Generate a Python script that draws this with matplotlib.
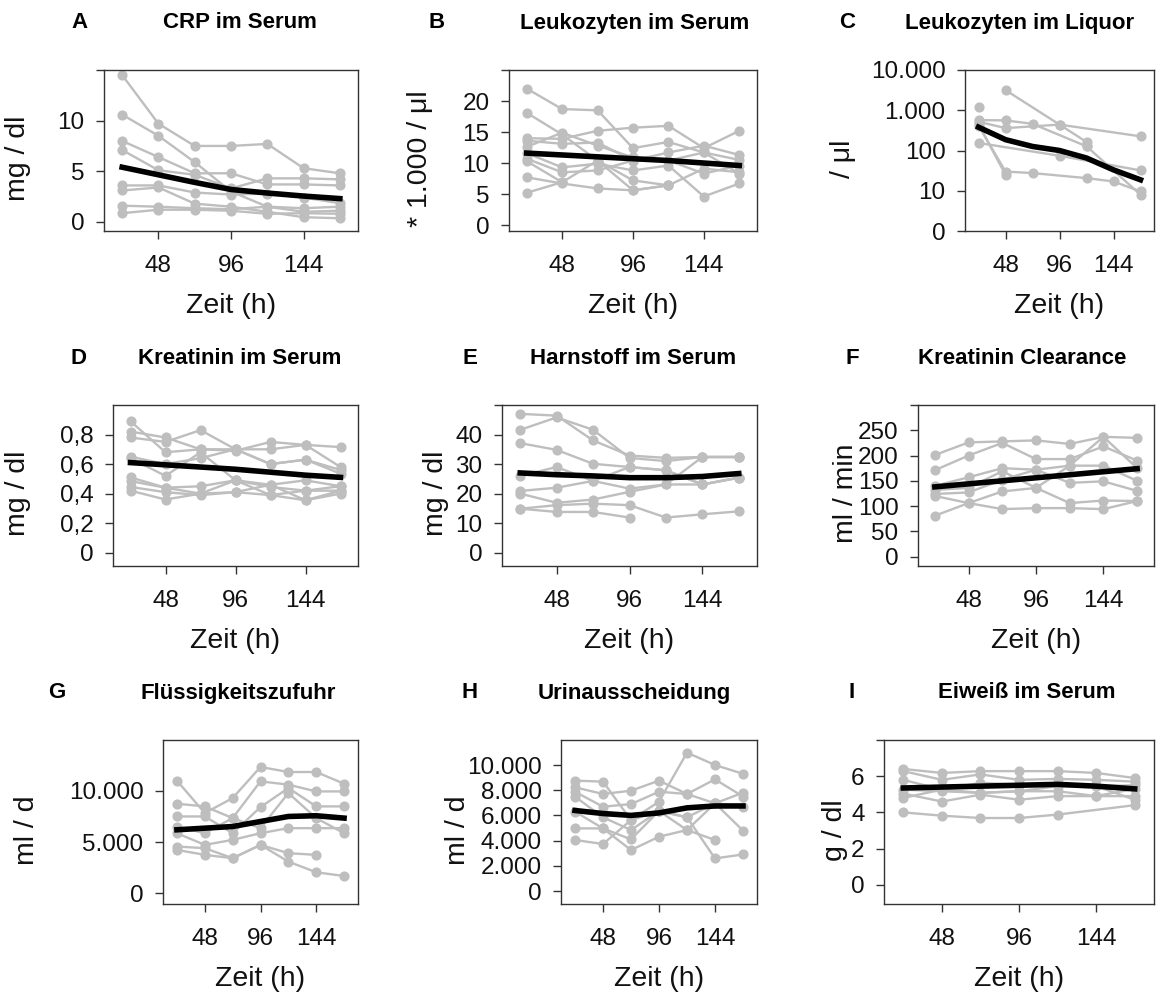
import numpy as np
import matplotlib.pyplot as plt
from matplotlib.ticker import FixedLocator, FixedFormatter

plt.rcParams['font.family'] = ['Liberation Sans', 'DejaVu Sans']

W, H = 1161, 994
nan = np.nan

TIME = [24, 48, 72, 96, 120, 144, 168]
XTICKS = [48, 96, 144]

# A: CRP im Serum (mg/dl)
CRP = [
    [14.5, 9.7, 7.5, 7.5, 7.7, 5.3, 4.8],
    [10.6, 8.5, 5.9, 3.0, 1.5, 1.0, 1.1],
    [8.0, 6.4, 4.8, 4.8, 3.7, 3.7, 3.6],
    [7.1, 5.1, 4.65, 3.3, 4.3, 4.3, 4.2],
    [3.6, 3.6, 2.9, 2.7, 2.8, 2.4, 1.85],
    [3.1, 3.4, 1.8, 1.5, 1.0, 0.46, 0.36],
    [1.6, 1.5, 1.35, 1.25, 1.5, 1.35, 1.5],
    [0.86, 1.2, 1.2, 1.1, 0.8, 0.86, 0.8],
]
CRP_MEAN = [5.4, 4.65, 3.9, 3.2, 2.85, 2.55, 2.3]

# B: Leukozyten im Serum (*1000/ul)
LEUKO_S = [
    [22.0, 18.7, 18.5, 12.4, 13.4, 11.7, 10.5],
    [18.1, 14.6, 10.4, 7.2, 6.4, 9.1, 8.5],
    [14.0, 13.9, 15.2, 15.7, 16.0, 12.4, 15.2],
    [13.6, 13.1, 13.3, 10.4, 11.7, 12.8, 11.3],
    [12.6, 14.9, 12.8, 10.9, 10.4, 8.3, 9.6],
    [11.6, 9.3, 9.9, 8.8, 9.6, 4.6, 6.7],
    [10.7, 8.5, 8.8, 10.4, 10.4, 11.7, 8.3],
    [10.3, 6.9, 10.4, 5.6, 6.4, nan, nan],
    [7.7, 6.7, 5.9, 5.6, 6.4, nan, nan],
    [5.2, 6.9, nan, nan, nan, nan, nan],
]
LEUKO_S_MEAN = [11.6, 11.3, 11.0, 10.7, 10.4, 10.0, 9.6]

# C: Leukozyten im Liquor (/ul)
LEUKO_L = [
    [1200, nan, nan, nan, nan, nan, nan],
    [570, 560, 460, nan, 127, nan, nan],
    [nan, 3170, nan, 440, 163, nan, nan],
    [520, 360, nan, 440, nan, nan, 225],
    [416, 30, 27.5, nan, 20.6, 17, 9.6],
    [450, 25, nan, nan, nan, nan, nan],
    [154, nan, nan, 74, nan, nan, 32],
    [nan, nan, nan, nan, 127, nan, 8],
]
LEUKO_L_MEAN = [380, 186, 126, 100, 65, 33, 18.7]

# D: Kreatinin im Serum (mg/dl)
KREA = [
    [0.89, 0.68, 0.70, 0.70, 0.60, 0.63, 0.56],
    [0.82, 0.78, 0.70, 0.69, 0.75, 0.73, 0.58],
    [0.78, 0.75, 0.83, 0.70, 0.70, 0.73, 0.715],
    [0.65, 0.60, 0.64, 0.70, 0.60, 0.63, 0.535],
    [0.64, 0.52, 0.68, 0.49, 0.46, 0.49, 0.45],
    [0.51, 0.44, 0.45, 0.49, 0.445, 0.42, 0.42],
    [0.485, 0.44, 0.40, 0.41, 0.46, 0.355, 0.40],
    [0.445, 0.41, 0.39, 0.41, 0.39, 0.42, 0.45],
    [0.42, 0.36, 0.40, 0.49, 0.39, 0.355, 0.42],
]
KREA_MEAN = [0.61, 0.595, 0.58, 0.565, 0.545, 0.525, 0.51]

# E: Harnstoff im Serum (mg/dl)
HARN = [
    [47.0, 46.4, 38.0, 32.9, 32.1, 32.4, 32.4],
    [41.6, 45.8, 41.6, 32.1, 31.0, 32.4, 32.4],
    [37.1, 34.8, 30.1, 29.0, 27.9, 23.1, 25.4],
    [26.0, 29.0, 24.3, 21.7, 23.1, 32.4, 32.4],
    [20.9, 22.0, 24.3, 29.0, 27.9, 23.1, 25.4],
    [20.0, 16.9, 18.0, 20.6, 23.1, 23.1, 25.4],
    [14.9, 16.1, 16.6, 16.1, 11.9, 13.0, 14.0],
    [14.9, 13.8, 13.8, 11.9, nan, nan, nan],
]
HARN_MEAN = [27.0, 26.4, 26.0, 25.4, 25.4, 25.8, 26.8]

# F: Kreatinin Clearance (ml/min)
CLEAR = [
    [201, 226, 228, 230, 223, 237, 235],
    [171, 200, 225, 193, 193, 218, 190],
    [140, 157, 175, 172, 180, 237, 175],
    [132, 136, 169, 136, 180, 180, 150],
    [124, 127, 152, 172, 146, 149, 130],
    [120, 106, 129, 136, 106, 111, 110],
    [81, 106, 94, 96, 96, 94, 110],
]
CLEAR_MEAN = [138, 144, 150, 156, 162, 168, 174]

# G: Fluessigkeitszufuhr (ml/d)
ZUFUHR = [
    [10980, 7820, 9280, 12310, 11820, 11820, 10680],
    [8730, 8470, 7330, 10910, 10590, 9930, 9930],
    [7490, 7490, 5860, 8400, 10260, 8470, 8470],
    [6510, 5860, 7330, 6350, 9770, 7330, 5860],
    [5860, 4720, 5210, 5860, 6350, 6350, 6350],
    [4560, 4400, 3420, 4720, 3910, 3750, nan],
    [4230, 3750, 3420, 4720, 3090, 2050, 1690],
]
ZUFUHR_MEAN = [6190, 6350, 6510, 7000, 7490, 7560, 7330]

# H: Urinausscheidung (ml/d)
URIN = [
    [8760, 8680, 5630, 7090, 10980, 10000, 9300],
    [8230, 7700, 7960, 8760, 7700, 8860, 7500],
    [7880, 6690, 6900, 7880, 7700, 6960, 7800],
    [7490, 5850, 4840, 6350, 5850, 6960, 6700],
    [6300, 4970, 3250, 4310, 4840, 4050, nan],
    [4970, 4970, 4100, 6350, 5850, 2590, 2900],
    [4050, 3730, 5630, 6350, 4840, 6960, 4800],
]
URIN_MEAN = [6390, 6150, 6000, 6200, 6600, 6750, 6750]

# I: Eiweiss im Serum (g/dl)
EIWEISS = [
    [6.4, 6.18, 6.28, 6.28, 6.28, 6.18, 5.9],
    [6.28, 5.8, 6.1, 5.8, 5.85, 5.8, 5.7],
    [5.8, 5.26, 5.63, 5.54, 5.45, 5.45, 5.5],
    [5.26, 5.17, 5.08, 5.17, 5.17, 4.9, 5.3],
    [5.04, 4.6, 4.98, 4.7, 4.9, 4.9, 4.9],
    [4.8, 5.26, 5.08, 5.17, 5.45, 5.45, 4.7],
    [4.0, 3.82, 3.69, 3.69, 3.88, nan, 4.4],
]
EIWEISS_MEAN = [5.35, 5.4, 5.45, 5.5, 5.55, 5.45, 5.3]

GREY = '#bebebe'
TICK_FS = 17.5
LAB_FS = 20.5
TITLE_FS = 16


def fx(x):
    return x / W


def fy(y):
    return 1 - y / H


def panel(fig, box, series, mean, ylim, yticks, ylabels, ylab, ylab_x,
          letter, letter_x, title, title_x, log=False):
    l, r, t, b = box
    ax = fig.add_axes([fx(l), fy(b), (r - l) / W, (b - t) / H])
    x = np.array(TIME, dtype=float)
    for s in series:
        y = np.array(s, dtype=float)
        m = ~np.isnan(y)
        ax.plot(x[m], y[m], color=GREY, lw=1.7, marker='o', ms=6.3, zorder=2)
    ax.plot(x, mean, color='black', lw=4, solid_joinstyle='round', zorder=3)
    if log:
        ax.set_yscale('log')
    ax.set_xlim(12, 180)
    ax.set_ylim(*ylim)
    ax.xaxis.set_major_locator(FixedLocator(XTICKS))
    ax.xaxis.set_minor_locator(FixedLocator([]))
    ax.set_xticklabels([str(v) for v in XTICKS])
    ax.yaxis.set_major_locator(FixedLocator(yticks))
    ax.yaxis.set_minor_locator(FixedLocator([]))
    ax.yaxis.set_major_formatter(FixedFormatter(ylabels))
    ax.tick_params(axis='both', direction='out', length=6, width=1,
                   color='#333333', labelsize=TICK_FS, labelcolor='#111111')
    ax.tick_params(axis='x', pad=11)
    ax.tick_params(axis='y', pad=8)
    for sp in ax.spines.values():
        sp.set_color('#333333')
        sp.set_linewidth(1)

    cy = (t + b) / 2
    fig.text(fx(ylab_x), fy(cy + 8), ylab, rotation=90, ha='center', va='center',
             fontsize=LAB_FS, color='#111111')
    fig.text(fx((l + r) / 2), fy(b + 75), 'Zeit (h)', ha='center', va='center',
             fontsize=LAB_FS, color='#111111')
    fig.text(fx(letter_x), fy(t - 47), letter, ha='center', va='center',
             fontsize=TITLE_FS, fontweight='bold')
    fig.text(fx(title_x), fy(t - 47), title, ha='center', va='center',
             fontsize=TITLE_FS, fontweight='bold')
    return ax


fig = plt.figure(figsize=(W / 100, H / 100), dpi=100)

panel(fig, (104, 358, 70, 231), CRP, CRP_MEAN, (-0.9, 15), [0, 5, 10, 15],
      ['0', '5', '10', ''], 'mg / dl', 18, 'A', 79, 'CRP im Serum', 240)
panel(fig, (509, 757, 70, 231), LEUKO_S, LEUKO_S_MEAN, (-0.96, 25),
      [0, 5, 10, 15, 20, 25], ['0', '5', '10', '15', '20', ''],
      '* 1.000 / \u03bcl', 420, 'B', 437, 'Leukozyten im Serum', 635)
panel(fig, (965, 1154, 70, 231), LEUKO_L, LEUKO_L_MEAN, (1, 10000),
      [1, 10, 100, 1000, 10000], ['0', '10', '100', '1.000', '10.000'],
      '/ \u03bcl', 843, 'C', 847, 'Leukozyten im Liquor', 1020, log=True)

panel(fig, (113, 358, 405, 566), KREA, KREA_MEAN, (-0.09, 1.0),
      [0, 0.2, 0.4, 0.6, 0.8], ['0', '0,2', '0,4', '0,6', '0,8'],
      'mg / dl', 18, 'D', 78, 'Kreatinin im Serum', 240)
panel(fig, (502, 757, 405, 566), HARN, HARN_MEAN, (-4.5, 50),
      [0, 10, 20, 30, 40, 50], ['0', '10', '20', '30', '40', ''],
      'mg / dl', 436, 'E', 470, 'Harnstoff im Serum', 633)
panel(fig, (918, 1154, 405, 566), CLEAR, CLEAR_MEAN, (-18.5, 300),
      [0, 50, 100, 150, 200, 250, 300], ['0', '50', '100', '150', '200', '250', ''],
      'ml / min', 846, 'F', 852, 'Kreatinin Clearance', 1022)

panel(fig, (163, 358, 740, 904), ZUFUHR, ZUFUHR_MEAN, (-1040, 14940),
      [0, 5000, 10000], ['0', '5.000', '10.000'],
      'ml / d', 27, 'G', 57, 'Fl\u00fcssigkeitszufuhr', 238)
panel(fig, (561, 757, 740, 904), URIN, URIN_MEAN, (-1030, 11984),
      [0, 2000, 4000, 6000, 8000, 10000],
      ['0', '2.000', '4.000', '6.000', '8.000', '10.000'],
      'ml / d', 458, 'H', 470, 'Urinausscheidung', 634)
panel(fig, (884, 1154, 740, 904), EIWEISS, EIWEISS_MEAN, (-1.06, 8),
      [0, 2, 4, 6, 8], ['0', '2', '4', '6', ''],
      'g / dl', 835, 'I', 852, 'Eiwei\u00df im Serum', 1027)

fig.savefig('out.png', dpi=100, facecolor='white')
